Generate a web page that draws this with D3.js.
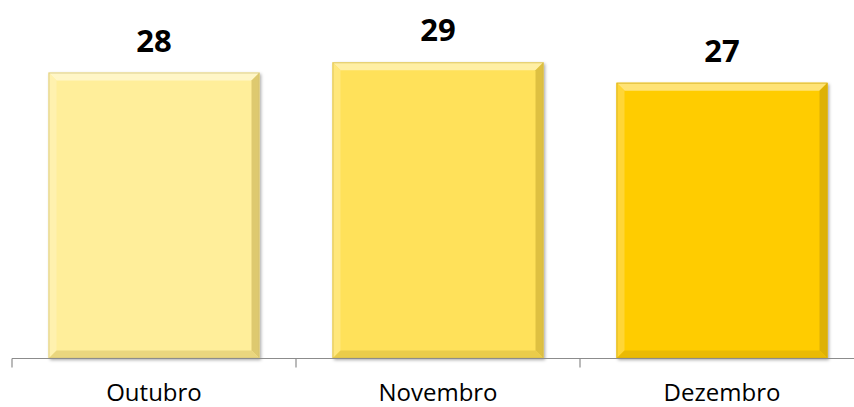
<!DOCTYPE html>
<html><head><meta charset="utf-8">
<script src="https://cdn.jsdelivr.net/npm/d3@7"></script>
<style>body{margin:0;background:#fff}svg{display:block}</style>
</head><body>
<svg id="c" width="854" height="407"></svg>
<script>
const categories = ["Outubro", "Novembro", "Dezembro"];
const values = [28, 29, 27];
const colors = ["#FFEE9A", "#FFE15A", "#FFCC05"];

const svg = d3.select("#c");
const baseY = 358.5;
const x = d3.scaleBand().domain(categories).range([12, 864]).paddingInner(0.257).paddingOuter(0.1285);
const y = d3.scaleLinear().domain([0, 35]).range([baseY, baseY - 357.5]);

const defs = svg.append("defs");
const f = defs.append("filter").attr("id","sh").attr("x","-10%").attr("y","-10%").attr("width","120%").attr("height","120%");
f.append("feDropShadow").attr("dx",1.5).attr("dy",1.5).attr("stdDeviation",1.5).attr("flood-color","#000").attr("flood-opacity",0.35);

const bev = 8;
const g = svg.selectAll("g.bar").data(categories).enter().append("g").attr("class","bar");
g.each(function(c, i){
  const gg = d3.select(this);
  const x0 = x(c), w = x.bandwidth(), y0 = y(values[i]), h = baseY - y0;
  gg.append("rect").attr("x",x0).attr("y",y0).attr("width",w).attr("height",h)
    .attr("fill",colors[i]).attr("filter","url(#sh)");
  const x1 = x0 + w, y1 = y0 + h;
  gg.append("path").attr("d",`M${x0},${y0}L${x1},${y0}L${x1-bev},${y0+bev}L${x0+bev},${y0+bev}Z`)
    .attr("fill", d3.interpolateRgb(colors[i], "#fff")(0.45));
  gg.append("path").attr("d",`M${x0},${y0}L${x0+bev},${y0+bev}L${x0+bev},${y1-bev}L${x0},${y1}Z`)
    .attr("fill", d3.interpolateRgb(colors[i], "#fff")(0.2));
  gg.append("path").attr("d",`M${x1},${y0}L${x1},${y1}L${x1-bev},${y1-bev}L${x1-bev},${y0+bev}Z`)
    .attr("fill", d3.interpolateRgb(colors[i], "#8a6a00")(0.28));
  gg.append("path").attr("d",`M${x0},${y1}L${x1},${y1}L${x1-bev},${y1-bev}L${x0+bev},${y1-bev}Z`)
    .attr("fill", d3.interpolateRgb(colors[i], "#8a6a00")(0.18));
  gg.append("rect").attr("x",x0+0.5).attr("y",y0+0.5).attr("width",w-1).attr("height",h-1)
    .attr("fill","none").attr("stroke", d3.interpolateRgb(colors[i], "#7a6a40")(0.35)).attr("stroke-width",1).attr("stroke-opacity",0.7);
});

svg.selectAll("text.val").data(categories).enter().append("text")
  .attr("x", c => x(c) + x.bandwidth()/2)
  .attr("y", (c,i) => y(values[i]) - 21)
  .attr("text-anchor","middle")
  .attr("font-family","'Open Sans', sans-serif").attr("font-weight","bold").attr("font-size","31px")
  .attr("fill","#000").text((c,i)=>values[i]);

const ax = svg.append("g").attr("transform",`translate(0,${baseY})`);
ax.append("line").attr("x1",12).attr("x2",854).attr("y1",0).attr("y2",0).attr("stroke","#8c8c8c").attr("stroke-width",1.2);
const step = x.step();
const tks = categories.map((c)=> x(c) - x.paddingInner()*step/2);
tks.push(tks[tks.length-1] + step);
ax.selectAll("line.tk").data(tks).enter().append("line").attr("class","tk")
  .attr("x1",d=>d).attr("x2",d=>d).attr("y1",0).attr("y2",9).attr("stroke","#8c8c8c").attr("stroke-width",1.2);

svg.selectAll("text.cat").data(categories).enter().append("text")
  .attr("x", c => x(c) + x.bandwidth()/2).attr("y", 400.5)
  .attr("text-anchor","middle")
  .attr("font-family","'Open Sans', sans-serif").attr("font-size","24px")
  .attr("fill","#000").text(c=>c);
</script>
</body></html>
